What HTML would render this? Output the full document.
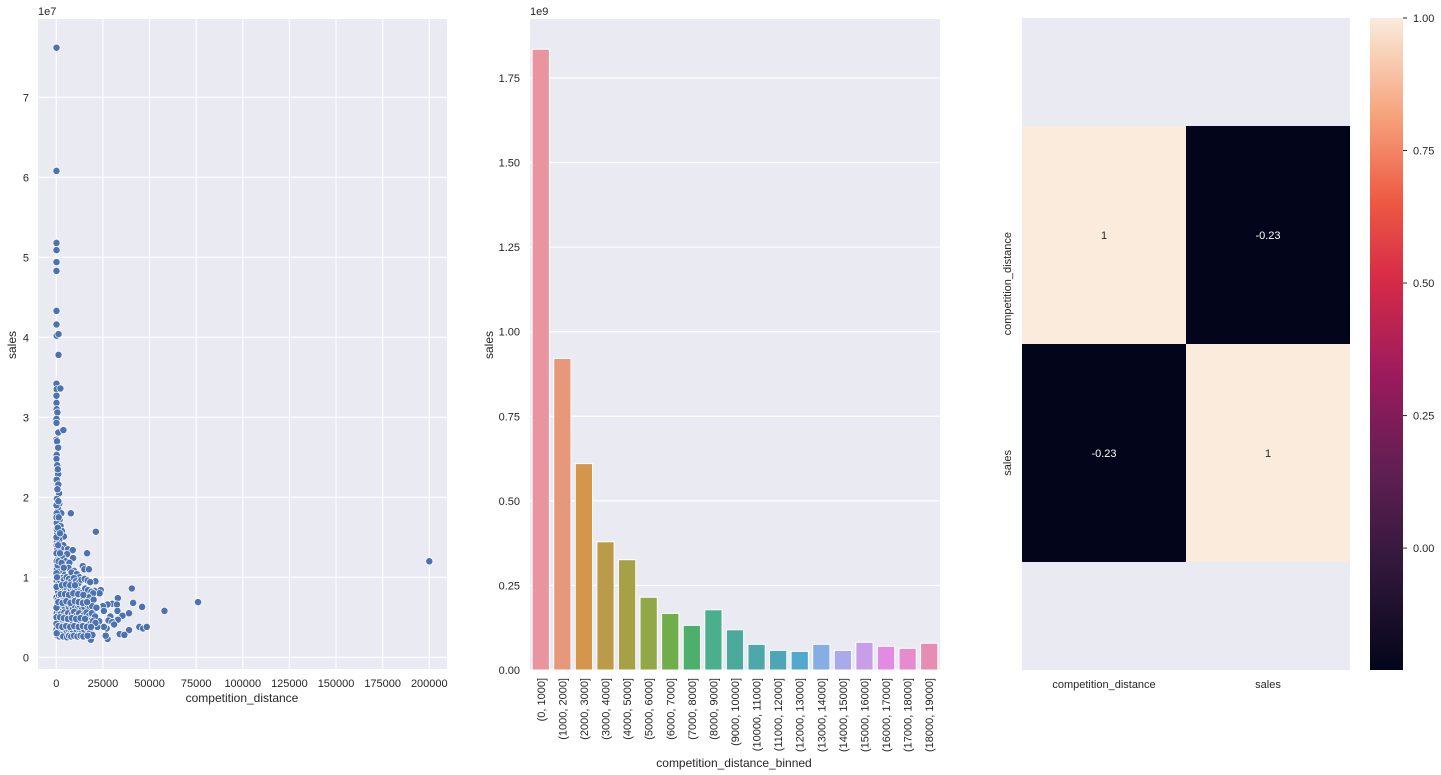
<!DOCTYPE html>
<html><head><meta charset="utf-8">
<style>
html,body{margin:0;padding:0;background:#fff;}
svg{display:block;font-family:"Liberation Sans",Arial,sans-serif;}
text{fill:#262626;}
</style></head>
<body>
<svg id="fig" width="1441" height="775" viewBox="0 0 1441 775" xmlns="http://www.w3.org/2000/svg"></svg>
<script>
// ---------- scatter data: competition_distance (thousands), sales (1e7) ----------
const scatterPts = "0.1,7.62;0.1,6.08;0.1,5.18;0.1,5.09;0.1,4.94;0.1,4.83;0.1,4.33;0.1,4.16;0.2,4.02;1.2,4.04;1.2,3.78;0.1,3.42;0.2,3.35;2.2,3.36;0.1,3.27;0.1,3.18;0.2,3.10;0.6,3.06;0.1,2.98;0.1,2.93;1.1,2.81;3.8,2.84;0.1,2.72;0.4,2.70;1.0,2.62;0.2,2.53;0.1,2.48;0.5,2.40;1.0,2.29;0.2,2.22;1.1,2.16;1.5,2.05;0.3,1.98;1.6,1.92;1.0,1.85;2.7,1.80;7.8,1.80;1.8,1.72;0.2,1.68;2.3,1.64;3.0,1.58;0.5,1.55;4.1,1.51;1.5,1.47;21.2,1.57;0.3,1.44;3.8,1.40;2.5,1.36;6.2,1.35;8.8,1.34;16.5,1.30;1.0,1.30;4.5,1.28;5.8,1.29;3.2,1.25;9.0,1.24;0.4,1.22;5.0,1.20;7.0,1.18;14.2,1.14;15.0,1.10;17.5,1.10;2.0,1.15;6.5,1.12;9.5,1.08;8.2,1.06;11.0,1.04;12.5,1.00;3.5,1.05;1.5,1.08;0.3,1.10;21.0,0.95;40.5,0.86;23.8,0.84;20.5,0.83;23.2,0.80;33.0,0.74;76.0,0.69;41.2,0.68;30.0,0.67;32.5,0.66;27.5,0.66;25.0,0.64;46.0,0.63;22.0,0.62;58.0,0.58;32.8,0.58;25.5,0.58;39.0,0.55;19.5,0.56;35.5,0.52;29.0,0.51;33.0,0.47;28.0,0.46;23.0,0.45;30.0,0.44;31.0,0.41;44.5,0.38;46.5,0.36;48.5,0.38;39.0,0.34;34.0,0.29;36.5,0.28;27.5,0.23;18.5,0.22;26.5,0.27;27.0,0.36;25.5,0.38;22.0,0.38;200,1.20;0.2,0.95;0.5,0.9;1.2,0.92;2.0,0.96;3.1,0.99;4.2,0.97;5.5,1.0;6.8,0.98;8.0,0.95;9.5,0.99;10.5,0.95;12.0,0.93;13.5,0.97;15.2,0.98;16.8,0.96;18.2,0.94;0.3,0.85;1.0,0.82;1.8,0.88;2.6,0.84;3.5,0.87;4.6,0.83;5.6,0.86;6.6,0.81;7.7,0.85;8.6,0.87;9.8,0.83;11.2,0.85;12.8,0.82;14.0,0.81;15.5,0.86;17.0,0.84;18.8,0.82;19.8,0.8;0.1,0.75;0.8,0.72;1.5,0.77;2.3,0.74;3.2,0.71;4.0,0.76;5.0,0.73;6.0,0.75;7.2,0.7;8.3,0.74;9.2,0.77;10.6,0.72;11.8,0.75;13.2,0.71;14.6,0.74;16.0,0.72;17.4,0.75;18.6,0.7;20.0,0.72;0.4,0.65;1.3,0.62;2.1,0.67;2.9,0.6;3.9,0.64;4.8,0.61;5.8,0.66;6.9,0.62;7.9,0.65;8.9,0.6;10.0,0.64;11.5,0.61;12.6,0.65;13.8,0.6;15.0,0.63;16.4,0.66;17.8,0.61;19.2,0.64;21.5,0.62;0.2,0.55;0.9,0.52;1.7,0.57;2.5,0.54;3.4,0.51;4.3,0.56;5.3,0.53;6.3,0.55;7.4,0.5;8.5,0.54;9.6,0.57;10.9,0.52;12.2,0.55;13.4,0.5;14.8,0.53;16.2,0.56;17.6,0.52;19.0,0.55;20.8,0.51;0.5,0.45;1.4,0.42;2.2,0.47;3.0,0.44;4.1,0.41;5.1,0.46;6.1,0.43;7.1,0.45;8.1,0.41;9.1,0.44;10.3,0.47;11.6,0.42;12.9,0.45;14.2,0.41;15.6,0.44;17.0,0.46;18.3,0.42;19.6,0.45;21.0,0.43;0.1,0.35;1.0,0.33;1.9,0.37;2.7,0.34;3.6,0.31;4.5,0.36;5.5,0.33;6.5,0.35;7.5,0.3;8.7,0.34;9.9,0.37;11.0,0.32;12.4,0.35;13.7,0.31;15.1,0.34;16.6,0.36;18.0,0.32;19.4,0.28;0.6,0.27;1.6,0.26;2.6,0.28;3.7,0.26;5.8,0.25;6.8,0.27;8.0,0.26;9.5,0.27;11.3,0.26;13.0,0.27;14.5,0.26;16.8,0.27;0.1,1.9;0.2,1.8;0.1,1.75;0.3,1.6;0.1,1.5;0.2,1.4;0.6,1.35;0.1,1.3;0.2,1.2;0.7,1.15;0.1,1.05;0.4,1.0;0.1,0.88;0.1,0.62;0.1,0.5;0.1,0.42;0.2,0.3;1.0,1.4;2.0,1.3;1.2,1.2;2.8,1.18;4.0,1.12;0.8,1.62;1.3,1.75;2.0,1.55;1.1,1.95;0.6,2.1;0.8,2.35;3.0,0.9;5.2,0.91;7.5,0.9;10.0,0.9;2.4,0.79;4.6,0.79;6.8,0.78;9.1,0.8;11.8,0.79;14.5,0.78;1.1,0.69;3.3,0.68;5.4,0.7;7.6,0.68;9.9,0.7;12.0,0.69;14.2,0.68;16.5,0.69;2.0,0.5;4.0,0.49;6.2,0.48;8.4,0.49;10.6,0.48;13.0,0.49;15.4,0.48;1.2,0.39;3.2,0.38;5.3,0.39;7.4,0.38;9.6,0.39;12.0,0.38;14.2,0.39;16.4,0.38;18.6,0.38";
const scatterXTicks = [0,25000,50000,75000,100000,125000,150000,175000,200000];
const scatterYTicks = [0,1,2,3,4,5,6,7];

// ---------- bar data ----------
const barCategories = ["(0, 1000]","(1000, 2000]","(2000, 3000]","(3000, 4000]","(4000, 5000]","(5000, 6000]","(6000, 7000]","(7000, 8000]","(8000, 9000]","(9000, 10000]","(10000, 11000]","(11000, 12000]","(12000, 13000]","(13000, 14000]","(14000, 15000]","(15000, 16000]","(16000, 17000]","(17000, 18000]","(18000, 19000]"];
const barValues = [1.835,0.921,0.610,0.379,0.326,0.215,0.167,0.132,0.178,0.119,0.076,0.058,0.055,0.076,0.058,0.082,0.070,0.064,0.079];
const barColors = ["#e8959f","#e6987b","#d3964b","#bb9b4a","#a7a146","#92a746","#6fae4b","#4caf6b","#4bae8d","#4caa9d","#4ca8a9","#4da6b8","#53a8cd","#86ade4","#aaa9ec","#c89ee8","#e38ae4","#e68cce","#e68db4"];
const barYTicks = [0,0.25,0.5,0.75,1.0,1.25,1.5,1.75];

// ---------- heatmap data ----------
const heatLabels = ["competition_distance","sales"];
const heatValues = [[1,-0.23],[-0.23,1]];
const heatText = [["1","-0.23"],["-0.23","1"]];
const cbarTicks = [0.00,0.25,0.50,0.75,1.00];

const NS="http://www.w3.org/2000/svg";
const svg=document.getElementById('fig');
function el(tag,attrs,parent){const e=document.createElementNS(NS,tag);for(const k in attrs)e.setAttribute(k,attrs[k]);(parent||svg).appendChild(e);return e;}
function txt(s,attrs,parent){const t=el('text',attrs,parent);t.textContent=s;return t;}

// ===== Scatter =====
const S={l:38,r:447,t:19,b:669};
const sx=v=>56.3+v*(373/200000);
const sy=v=>657.3-v*80;
const g1=el('g',{});


el('rect',{x:S.l,y:S.t,width:S.r-S.l,height:S.b-S.t,fill:'#eaeaf2'},g1);
scatterXTicks.forEach(t=>{
  const l=el('line',{x1:sx(t),x2:sx(t),y1:S.t,y2:S.b,stroke:'#fff','stroke-width':1.1},g1);
  
  
  const tx=txt(String(t),{x:sx(t),y:687,'font-size':11,'text-anchor':'middle'},g1);
  
  
});
scatterYTicks.forEach(t=>{
  const l=el('line',{x1:S.l,x2:S.r,y1:sy(t),y2:sy(t),stroke:'#fff','stroke-width':1.1},g1);
  
  
  const tx=txt(String(t),{x:29,y:sy(t)+4,'font-size':11,'text-anchor':'end'},g1);
  
  
});
scatterPts.split(';').forEach(p=>{
  const [a,b]=p.split(',').map(Number);
  const c=el('circle',{cx:sx(a*1000),cy:sy(b),r:3.6,fill:'#4c72b0',stroke:'#fff','stroke-width':0.7},g1);
  
  
});
let t1=txt('1e7',{x:38,y:15,'font-size':11},g1);


t1=txt('competition_distance',{x:242,y:702,'font-size':12,'text-anchor':'middle'},g1);


t1=txt('sales',{x:0,y:0,'font-size':12,'text-anchor':'middle',transform:'translate(16,345) rotate(-90)'},g1);



// ===== Bar =====
const B={l:530,r:940,t:19,b:670};
const bw=(B.r-B.l)/barCategories.length;
const bx=i=>B.l+bw*(i+0.5);
const by=v=>B.b-v*338.3;
const g2=el('g',{});


el('rect',{x:B.l,y:B.t,width:B.r-B.l,height:B.b-B.t,fill:'#eaeaf2'},g2);
barYTicks.forEach(t=>{
  const l=el('line',{x1:B.l,x2:B.r,y1:by(t),y2:by(t),stroke:'#fff','stroke-width':1.1},g2);
  
  
  const tx=txt(t.toFixed(2),{x:520,y:by(t)+4,'font-size':11,'text-anchor':'end'},g2);
  
  
});
barCategories.forEach((c,i)=>{
  const w=bw*0.8;
  const r=el('rect',{x:bx(i)-w/2,y:by(barValues[i]),width:w,height:by(0)-by(barValues[i]),fill:barColors[i],stroke:'#fff','stroke-width':1},g2);
  
  
  const tx=txt(c,{x:0,y:0,'font-size':11,'text-anchor':'end',transform:`translate(${bx(i)+4},678) rotate(-90)`},g2);
  
  
});
let t2=txt('1e9',{x:530,y:15,'font-size':11},g2);


t2=txt('competition_distance_binned',{x:734,y:767,'font-size':12,'text-anchor':'middle'},g2);


t2=txt('sales',{x:0,y:0,'font-size':12,'text-anchor':'middle',transform:'translate(493,345) rotate(-90)'},g2);



// ===== Heatmap =====
const H={l:1022,r:1350,t:18,b:670,rowTop:126,cellH:218};
const cw=(H.r-H.l)/heatLabels.length;
const rocket=[[0,'#03051a'],[0.15,'#2e1739'],[0.3,'#5e1f52'],[0.45,'#9b1a5d'],[0.6,'#d72b47'],[0.72,'#ee5a43'],[0.85,'#f5a37b'],[1,'#faebdd']];
function hex(h){return [1,3,5].map(i=>parseInt(h.substr(i,2),16));}
function cmap(v){const f=(v-(-0.23))/(1-(-0.23));for(let i=1;i<rocket.length;i++){if(f<=rocket[i][0]){const a=rocket[i-1],b=rocket[i];const u=(f-a[0])/(b[0]-a[0]);const A=hex(a[1]),Bc=hex(b[1]);return 'rgb('+A.map((x,k)=>Math.round(x+(Bc[k]-x)*u)).join(',')+')';}}return rocket[rocket.length-1][1];}
const g3=el('g',{});


el('rect',{x:H.l,y:H.t,width:H.r-H.l,height:H.b-H.t,fill:'#eaeaf2'},g3);
heatValues.forEach((row,i)=>row.forEach((v,j)=>{
  const r=el('rect',{x:H.l+j*cw,y:H.rowTop+i*H.cellH,width:cw,height:H.cellH,fill:cmap(v)},g3);
  
  
  const tx=txt(heatText[i][j],{x:H.l+(j+0.5)*cw,y:H.rowTop+(i+0.5)*H.cellH+4,'font-size':11,'text-anchor':'middle',style:'fill:'+(v>0.5?'#262626':'#ffffff')},g3);
  
  
}));
heatLabels.forEach((lab,i)=>{
  let tx=txt(lab,{x:H.l+(i+0.5)*cw,y:688,'font-size':11,'text-anchor':'middle'},g3);
  
  
  tx=txt(lab,{x:0,y:0,'font-size':11,'text-anchor':'end',transform:`translate(1011,${H.rowTop+(i+0.5)*H.cellH-3}) rotate(-90)`},g3);
  
  
});
// colorbar
const C={l:1370,r:1403,t:18,b:670};
const cy=v=>C.b-(v-(-0.23))/(1.23)*(C.b-C.t);
const defs=el('defs',{});
const lg=el('linearGradient',{id:'rk',x1:0,y1:1,x2:0,y2:0},defs);
rocket.forEach(s=>el('stop',{offset:s[0],'stop-color':s[1]},lg));
const cb=el('rect',{x:C.l,y:C.t,width:C.r-C.l,height:C.b-C.t,fill:'url(#rk)'},g3);


cbarTicks.forEach(t=>{
  el('line',{x1:C.r,x2:C.r+4,y1:cy(t),y2:cy(t),stroke:'#262626','stroke-width':1},g3);
  const tx=txt(t.toFixed(2),{x:1413,y:cy(t)+4,'font-size':11},g3);
  
  
});
</script>
</body></html>
